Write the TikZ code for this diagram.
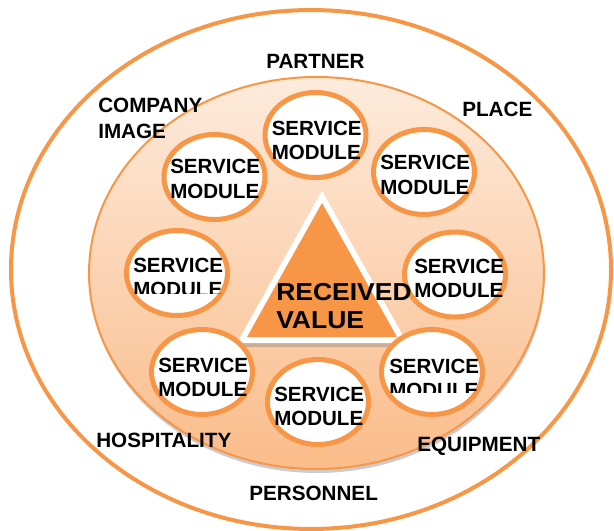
\documentclass[tikz,border=0pt]{standalone}
\usepackage{graphicx}
\usepackage{fontspec}
\setmainfont{Liberation Sans}
\usetikzlibrary{shapes.geometric,shadows}
\definecolor{orng}{HTML}{F79646}
\definecolor{inTop}{RGB}{253,235,220}
\definecolor{inBot}{RGB}{250,188,138}
\newcommand{\twoline}[3]{\vtop{\baselineskip=#3\hbox{#1}\hbox{#2}}}
\begin{document}
\begin{tikzpicture}[x=0.75pt,y=-0.75pt,
  modc/.style={ellipse, draw=orng, line width=3.75pt, fill=white,
    minimum width=75.75pt, minimum height=63.75pt, inner sep=0pt},
  modt/.style={anchor=base west, inner sep=0pt,
    font=\fontsize{15.4pt}{18.2pt}\selectfont\bfseries},
  lbl/.style={anchor=base west, inner sep=0pt,
    font=\fontsize{15.5pt}{19.5pt}\selectfont\bfseries},
  shd/.style={drop shadow={shadow xshift=0.5pt, shadow yshift=-3pt, opacity=0.4}}
]
\useasboundingbox (0,0) rectangle (614,531);
% outer ellipse
\draw[orng, line width=3pt] (311,269.5) ellipse [x radius=225pt, y radius=194.6pt];
% inner disc
\path[draw=orng, line width=1.5pt, top color=inTop, bottom color=inBot, shd]
  (316.5,273) ellipse [x radius=170.6pt, y radius=147pt];
% triangle
\coordinate (apexW) at (322,190.7);
\coordinate (blW) at (236.8,343);
\coordinate (brW) at (407.2,343);
\coordinate (apexO) at (322,203);
\coordinate (blO) at (247,337);
\coordinate (brO) at (397,337);
\path[fill=white, shd] (apexW) -- (blW) -- (brW) -- cycle;
\path[fill=orng] (apexO) -- (blO) -- (brO) -- cycle;
% service module circles
\node[modc] (m1) at (315.5,135) {};
\node[modc] (m2) at (424,172) {};
\node[modc] (m3) at (214.5,177) {};
\node[modc] (m4) at (177,273) {};
\node[modc] (m5) at (455,274.5) {};
\node[modc] (m6) at (202,372) {};
\node[modc] (m7) at (318,402) {};
\node[modc] (m8) at (432,372) {};
% texts in circles
\node[modt] (t1) at (271.5,135.7) {\twoline{SERVICE}{MODULE}{18.2pt}};
\node[modt] (t2) at (380,170) {\twoline{SERVICE}{MODULE}{18.2pt}};
\node[modt] (t3) at (170,174) {\twoline{SERVICE}{MODULE}{18.2pt}};
\begin{scope}
\clip (0,0) rectangle (614,293.3);
\node[modt] (t4) at (133,272.3) {\twoline{SERVICE}{MODULE}{18.2pt}};
\end{scope}
\node[modt] (t5) at (414,273) {\twoline{SERVICE}{MODULE}{18.2pt}};
\node[modt] (t6) at (158,372.3) {\twoline{SERVICE}{MODULE}{18.2pt}};
\node[modt] (t7) at (274,401) {\twoline{SERVICE}{MODULE}{18.2pt}};
\begin{scope}
\clip (0,0) rectangle (614,392.7);
\node[modt] (t8) at (389,373.3) {\twoline{SERVICE}{MODULE}{18.2pt}};
\end{scope}
% received value
\node[anchor=base west, inner sep=0pt, font=\fontsize{18.4pt}{21pt}\selectfont\bfseries]
  (rv) at (276,300.5) {\scalebox{1.08}[1]{\twoline{RECEIVED}{VALUE}{21pt}}};
% outer labels
\node[lbl] (partner) at (266,68.75) {PARTNER};
\node[lbl] (company) at (98,112.75) {\twoline{COMPANY}{IMAGE}{19.5pt}};
\node[lbl] (place) at (462,116.75) {PLACE};
\node[lbl] (hosp) at (96,447.75) {HOSPITALITY};
\node[lbl] (equip) at (417,451) {EQUIPMENT};
\node[lbl] (pers) at (249,500.75) {PERSONNEL};
\end{tikzpicture}
\end{document}
